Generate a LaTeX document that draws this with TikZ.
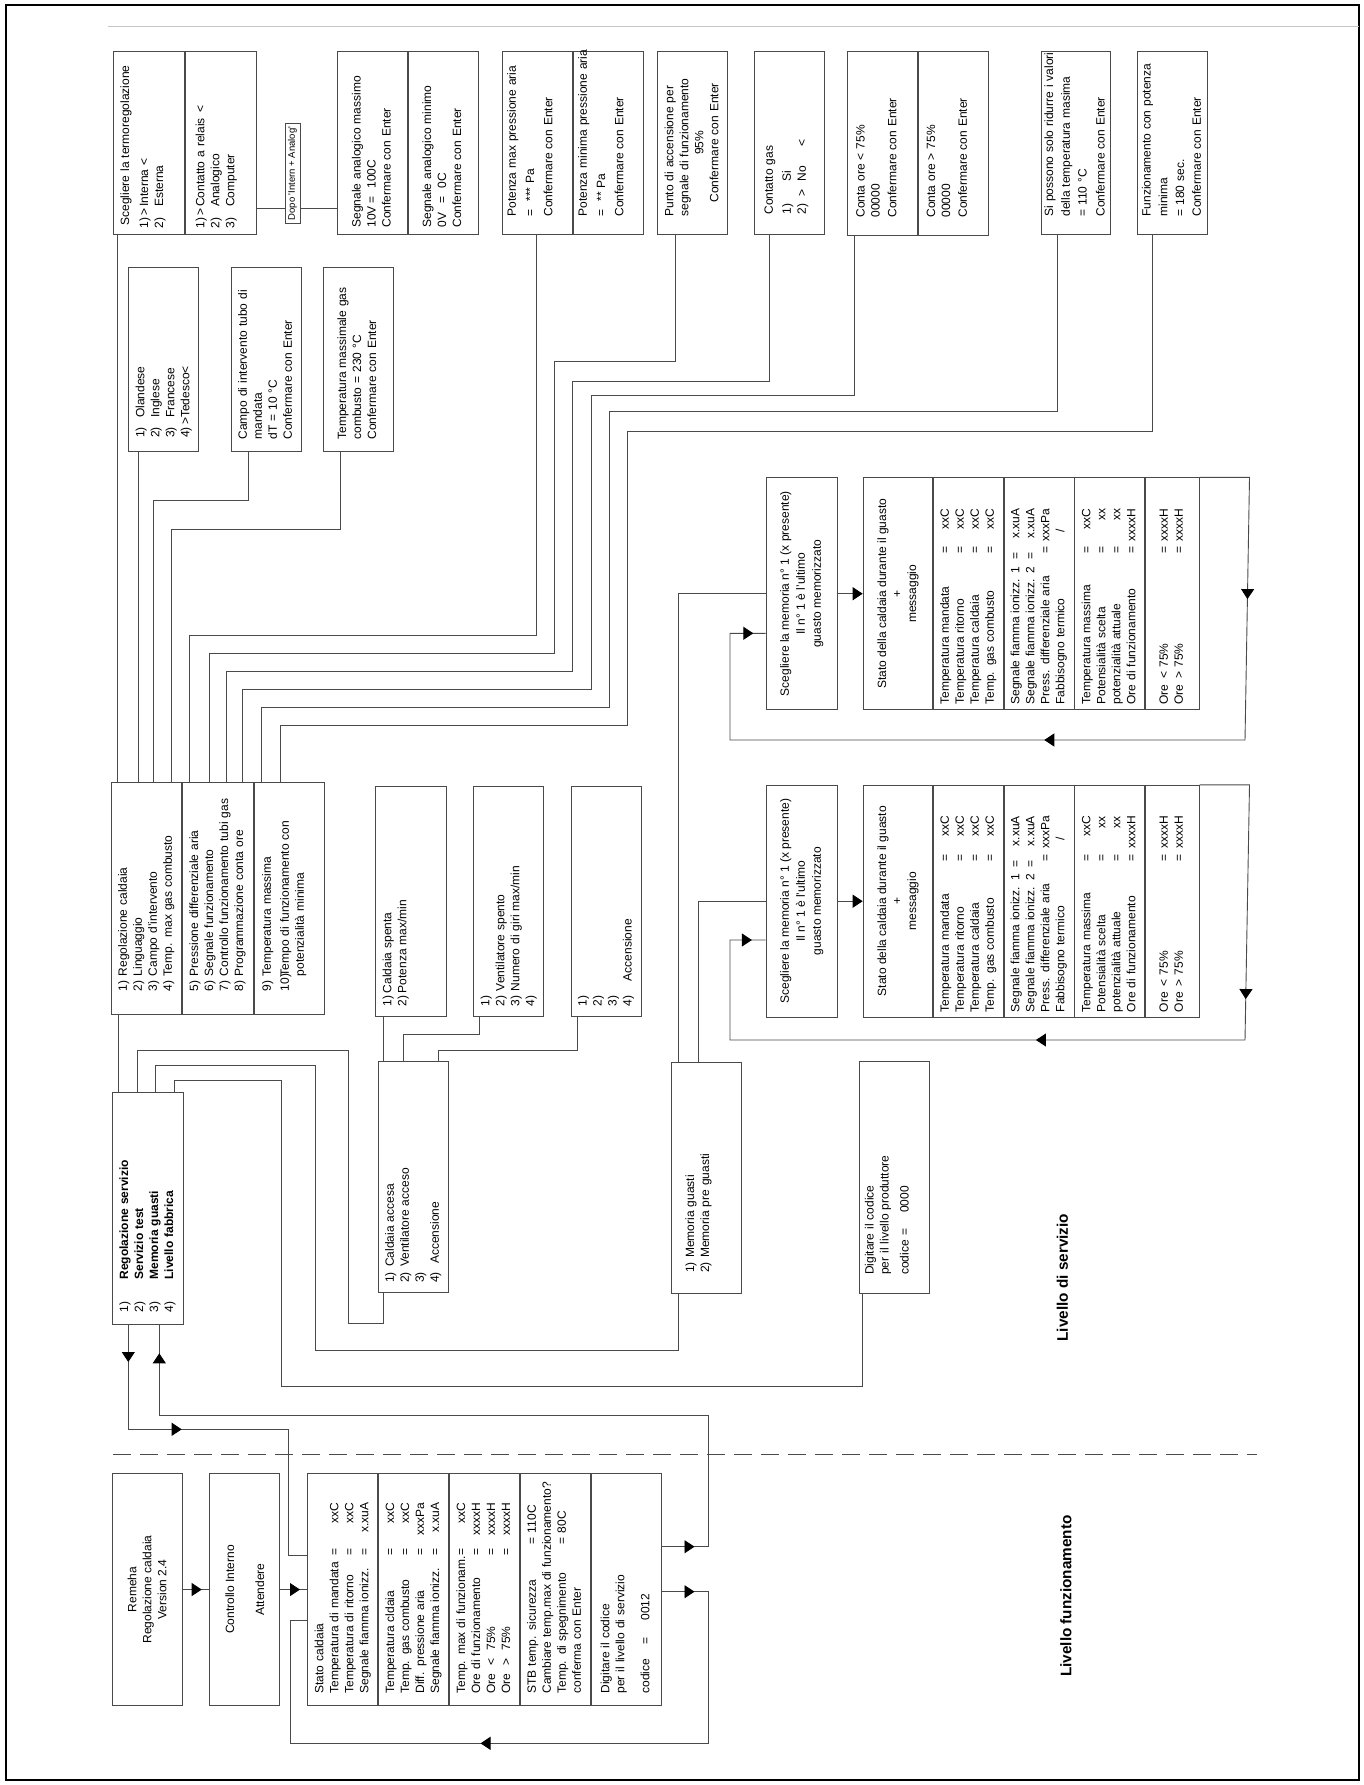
\documentclass[tikz,border=0pt]{standalone}
\usepackage{fontspec}
\setmainfont{Liberation Sans}
\usetikzlibrary{arrows.meta, positioning, decorations.markings}
\definecolor{linec}{HTML}{4A4A4A}
\newcommand\dfont{\fontsize{12}{15}\selectfont}
\newcommand\boxlines[1]{\begin{tabular}{@{}l@{}}#1\end{tabular}}
\newcommand\nr[3][15]{\makebox[#1pt][l]{#2}#3}
\newcommand\sv[2]{\makebox[138pt][l]{#1}=\makebox[46pt][r]{#2}}
\newcommand\gv[2]{\makebox[151pt][l]{#1}=\makebox[38pt][r]{#2}}
\tikzset{
  box/.style={draw=linec, line width=0.9pt, font=\dfont, inner ysep=0pt, anchor=north west},
  lbox/.style={box, align=left},
  cbox/.style={box, align=center},
  wp/.code 2 args={\pgfmathsetmacro\boxtw{#1-2*#2}%
    \pgfkeysalso{minimum width=#1pt, inner xsep=#2pt, text width/.expanded=\boxtw pt}},
  conn/.style={draw=linec, line width=0.9pt},
  midtip/.style={postaction={decorate, decoration={markings,
    mark=at position #1 with {\arrow{>}}}}},
}

\begin{document}
\begin{tikzpicture}[x=1pt, y=1pt, >={Triangle[length=10pt, width=13pt, color=black]}]
\begin{scope}[rotate=90, transform shape]
\useasboundingbox (0,0) rectangle (-1785,-1364);

% frame
\draw[line width=2pt] (-5,-6) rectangle (-1780,-1359);
\draw[gray!45, line width=1pt] (-27,-108) -- (-27,-1359);

% livello funzionamento
\node[cbox, minimum width=232pt, minimum height=70pt] (remeha) at (-1706,-111.7)
  {Remeha\\Regolazione caldaia\\Version 2.4};
\node[cbox, minimum width=232pt, minimum height=70pt] (ctrl) at (-1706,-209.3)
  {Controllo Interno\\[15pt]Attendere};
\node[lbox, wp={232}{12}, minimum height=70pt] (st1) at (-1706,-307.3)
  {\boxlines{Stato caldaia\\ \sv{Temperatura di mandata}{xxC}\\
   \sv{Temperatura di ritorno}{xxC}\\ \sv{Segnale fiamma ionizz.}{x.xuA}}};
\node[lbox, wp={232}{12}, minimum height=70pt, below=0pt of st1] (st2)
  {\boxlines{\sv{Temperatura cldaia}{xxC}\\ \sv{Temp. gas combusto}{xxC}\\
   \sv{Diff. pressione aria}{xxxPa}\\ \sv{Segnale fiamma ionizz.}{x.xuA}}};
\node[lbox, wp={232}{12}, minimum height=70pt, below=0pt of st2] (st3)
  {\boxlines{\sv{Temp. max di funzionam.}{xxC}\\ \sv{Ore di funzionamento}{xxxxH}\\
   \sv{Ore\hspace{8pt}<\hspace{8pt}75\%}{xxxxH}\\ \sv{Ore\hspace{8pt}>\hspace{8pt}75\%}{xxxxH}}};
\node[lbox, wp={232}{12}, minimum height=70pt, below=0pt of st3] (st4)
  {\boxlines{\makebox[149.5pt][l]{STB temp. sicurezza}= 110C\\
   Cambiare temp.max di funzionamento?\\
   \makebox[149.5pt][l]{Temp. di spegnimento}= 80C\\ conferma con Enter}};
\node[lbox, wp={232}{12}, minimum height=70pt, below=0pt of st4] (st5)
  {\boxlines{Digitare il codice\\ per il livello di servizio\\[10pt]
   \makebox[49.5pt][l]{codice}=\hspace{16.5pt}0012}};

\draw[conn, midtip=-7.6pt] (remeha.south) -- (remeha.south |- ctrl.north);
\draw[conn, midtip=-7.3pt] (ctrl.south) -- (ctrl.south |- st1.north);

\draw[conn, dash pattern=on 18pt off 9pt] (-1454,-113) -- (-1454,-1256.7);

% livello di servizio
\node[lbox, wp={231.7}{12}, minimum height=71pt] (regserv) at (-1325,-111.7)
  {\boxlines{\nr[33]{1)}{\textbf{Regolazione servizio}}\\ \nr[33]{2)}{\textbf{Servizio test}}\\
   \nr[33]{3)}{\textbf{Memoria guasti}}\\ \nr[33]{4)}{\textbf{Livello fabbrica}}}};

\node[lbox, wp={231.7}{23.3}, minimum height=70.3pt] (rc1) at (-1015,-110.7)
  {\boxlines{\nr{1)}{Regolazione caldaia}\\ \nr{2)}{Linguaggio}\\
   \nr{3)}{Campo d'intervento}\\ \nr{4)}{Temp. max gas combusto}}};
\node[lbox, wp={231.7}{23.3}, minimum height=70.7pt, below=0pt of rc1] (rc2)
  {\boxlines{\nr{5)}{Pressione differenziale aria}\\ \nr{6)}{Segnale funzionamento}\\
   \nr{7)}{Controllo funzionamento tubi gas}\\ \nr{8)}{Programmazione conta ore}}};
\node[lbox, wp={231.7}{23.3}, minimum height=70pt, below=0pt of rc2] (rc3)
  {\boxlines{\nr{9)}{Temperatura massima}\\[3pt] \nr{10)}{Tempo di funzionamento con}\\
   \nr{}{potenzialità minima}\\[-6pt] ~}};

\node[lbox, wp={231.6}{10}, minimum height=69.4pt] (caldacc) at (-1293.3,-378.3)
  {\boxlines{\nr[16]{1)}{Caldaia accesa}\\ \nr[16]{2)}{Ventilatore acceso}\\ 3)\\
   \nr[19]{4)}{Accensione}}};
\node[lbox, wp={230.6}{10.6}, minimum height=70.7pt] (caldsp) at (-1017.3,-375)
  {\boxlines{\nr[13]{1)}{Caldaia spenta}\\ \nr[13]{2)}{Potenza max/min}\\ ~\\ ~}};
\node[lbox, wp={230.6}{10.6}, minimum height=70pt] (vent) at (-1017.3,-473.3)
  {\boxlines{1)\\ \nr{2)}{Ventilatore spento}\\ \nr{3)}{Numero di giri max/min}\\ 4)}};
\node[lbox, wp={230.6}{10.6}, minimum height=70pt] (accens) at (-1017.3,-570.7)
  {\boxlines{1)\\ 2)\\ 3)\\ \nr[25]{4)}{Accensione}}};
\node[lbox, wp={231.6}{21}, minimum height=70pt] (memg) at (-1294.3,-670.7)
  {\boxlines{\nr{1)}{Memoria guasti}\\ \nr{2)}{Memoria pre guasti}\\ ~}};
\node[lbox, wp={232.6}{19}, minimum height=70.3pt] (digprod) at (-1294.3,-859)
  {\boxlines{Digitare il codice\\ per il livello produttore\\[5pt]
   \makebox[39.5pt][l]{codice}=\hspace{15.5pt}0000\\[-2pt] ~}};

% pagine di regolazione
\node[lbox, wp={183.3}{6}, minimum height=70.9pt] (termo1) at (-235,-113.3)
  {\boxlines{\hspace{3pt}Scegliere la termoregolazione\\[4pt]
   \makebox[13pt][l]{1)}\makebox[8.7pt][l]{>}Interna\hspace{4pt}<\\
   \makebox[21.7pt][l]{2)}Esterna\\[-3pt] ~}};
\node[lbox, wp={183.3}{6}, minimum height=70.8pt, below=0pt of termo1] (termo2)
  {\boxlines{\makebox[13pt][l]{1)}\makebox[8.7pt][l]{>}Contatto a relais\hspace{6pt}<\\
   \makebox[21.7pt][l]{2)}Analogico\\ \makebox[21.7pt][l]{3)}Computer\\[-6pt] ~}};
\node[cbox, minimum width=100pt, minimum height=15pt, inner sep=0pt,
      font=\fontsize{9.5}{11}\selectfont] (dopo) at (-224,-284.5)
  {Dopo \textquotesingle Intern + Analog\textquotesingle};
\node[lbox, wp={183.3}{7}, minimum height=69.7pt] (segn1) at (-235,-337.3)
  {\boxlines{Segnale analogico massimo\\ \makebox[24pt][l]{10V}=\hspace{8pt}100C\\
   Confermare con Enter}};
\node[lbox, wp={183.3}{7}, minimum height=69.7pt, below=0pt of segn1] (segn2)
  {\boxlines{Segnale analogico minimo\\ \makebox[24pt][l]{0V}=\hspace{8pt}0C\\
   Confermare con Enter}};
\node[lbox, wp={183.3}{18}, minimum height=70pt] (pot1) at (-235,-501.7)
  {\boxlines{Potenza max pressione aria\\[3.3pt] =\hspace{8pt}***\hspace{4pt}Pa\\[3.3pt]
   Confermare con Enter\\[-3pt] ~}};
\node[lbox, wp={183.3}{18}, minimum height=70pt, below=0pt of pot1] (pot2)
  {\boxlines{Potenza minima pressione aria\\[3.3pt] =\hspace{8pt}**\hspace{4pt}Pa\\[3.3pt]
   Confermare con Enter\\[-3pt] ~}};
\node[lbox, wp={183.3}{18}, minimum height=70pt] (punto) at (-235,-657.3)
  {\boxlines{Punto di accensione per\\ segnale di funzionamento\\
   \makebox[147.3pt][c]{95\%}\\ \makebox[147.3pt][c]{Confermare con Enter}}};
\node[lbox, wp={183.3}{20}, minimum height=70pt] (gas) at (-235,-754.3)
  {\boxlines{Contatto gas\\[3pt] \makebox[33pt][l]{1)}Si\\
   \makebox[18pt][l]{2)}\makebox[15pt][l]{>}No\hspace{20pt}<\\[-8pt] ~}};
\node[lbox, wp={184.3}{18}, minimum height=69.4pt] (conta1) at (-236,-847.3)
  {\boxlines{Conta ore < 75\%\\ 00000\\[1.7pt] Confermare con Enter\\[-5pt] ~}};
\node[lbox, wp={184.3}{18}, minimum height=70pt, below=0pt of conta1] (conta2)
  {\boxlines{Conta ore > 75\%\\ 00000\\[1.7pt] Confermare con Enter\\[-5pt] ~}};
\node[lbox, wp={183.3}{18}, minimum height=69.3pt] (tmax) at (-235,-1040.7)
  {\boxlines{Si possono solo ridurre i valori\\[1.7pt] della temperatura masima\\[1.7pt]
   = 110 °C\\[3pt] Confermare con Enter}};
\node[lbox, wp={183.3}{18}, minimum height=70pt] (fmin) at (-235,-1137.3)
  {\boxlines{Funzionamento con potenza\\[1.7pt] minima\\[1.7pt] = 180 sec.\\[1.7pt]
   Confermare con Enter}};

\node[lbox, wp={183.4}{13.4}, minimum height=70pt] (lingua) at (-451.7,-128.3)
  {\boxlines{\nr[20]{1)}{Olandese}\\ \nr[20]{2)}{Inglese}\\ \nr[20]{3)}{Francese}\\
   \nr[13]{4)}{>Tedesco<}}};
\node[lbox, wp={183.4}{11.7}, minimum height=70pt] (campo) at (-451.7,-231)
  {\boxlines{Campo di intervento tubo di\\ mandata\\ dT = 10 °C\\ Confermare con Enter}};
\node[lbox, wp={183.4}{11.7}, minimum height=70pt] (tgas) at (-451.7,-322.7)
  {\boxlines{Temperatura massimale gas\\ combusto = 230 °C\\ Confermare con Enter}};

% memoria guasti
\foreach \g/\gx in {1/-710, 2/-1017.5} {
  \node[cbox, minimum width=231.7pt, minimum height=71pt] (memsel\g) at (\gx,-765.7)
    {Scegliere la memoria n° 1 (x presente)\\[1pt]Il n° 1 è l'ultimo\\[1pt]guasto memorizzato};
  \node[cbox, minimum width=231.7pt, minimum height=69.6pt] (hd\g) at (\gx,-862.7)
    {Stato della caldaia durante il guasto\\+\\messaggio};
  \node[lbox, wp={231.7}{5}, minimum height=69.4pt, below=0pt of hd\g] (a\g)
    {\boxlines{\gv{Temperatura mandata}{xxC}\\ \gv{Temperatura ritorno}{xxC}\\
     \gv{Temperatura caldaia}{xxC}\\ \gv{Temp. gas combusto}{xxC}}};
  \node[lbox, wp={231.7}{5}, minimum height=70pt, below=0pt of a\g] (b\g)
    {\boxlines{\makebox[145pt][l]{Segnale fiamma ionizz. 1}=\makebox[44pt][r]{x.xuA}\\
     \makebox[145pt][l]{Segnale fiamma ionizz. 2}=\makebox[44pt][r]{x.xuA}\\
     \gv{Press. differenziale aria}{xxxPa}\\ \makebox[172pt][l]{Fabbisogno termico}/}};
  \node[lbox, wp={231.7}{5}, minimum height=70pt, below=0pt of b\g] (c\g)
    {\boxlines{\gv{Temperatura massima}{xxC}\\ \gv{Potensialità scelta}{xx}\\
     \gv{potenzialità attuale}{xx}\\ \gv{Ore di funzionamento}{xxxxH}}};
  \node[lbox, wp={231.7}{5}, minimum height=53.3pt, below=0pt of c\g] (d\g)
    {\boxlines{\gv{Ore\hspace{6pt}<\hspace{4pt}75\%}{xxxxH}\\
     \gv{Ore\hspace{6pt}>\hspace{4pt}75\%}{xxxxH}}};
  \draw[conn, ->] (memsel\g.south) -- (hd\g.north);
}

\node[anchor=west, inner sep=0pt, font=\fontsize{15.3}{18}\selectfont\bfseries] (lvserv)
  at (-1341.7,-1062.5) {Livello di servizio};
\node[anchor=west, inner sep=0pt, font=\fontsize{15.3}{18}\selectfont\bfseries] (lvfunz)
  at (-1677,-1066) {Livello funzionamento};

% uscita dal livello di servizio
\draw[conn, midtip=37pt, midtip=157.7pt] (regserv.west |- 0,-128.3) -- (-1429.3,-128.3)
  -- (-1429.3,-288.3) -- (-1555,-288.3) -- (st1.north -| -1555,0);
% codice 0012
\draw[conn, midtip=32.7pt, midtip=-28.3pt] (st5.south -| -1546.7,0) -- (-1546.7,-708.3)
  -- (-1415,-708.3) -- (-1415,-159.3) -- (regserv.west |- 0,-159.3);
% scorrimento stato caldaia
\draw[conn, midtip=32.7pt, midtip=425.9pt] (st5.south -| -1591.7,0) -- (-1591.7,-708.3)
  -- (-1743.3,-708.3) -- (-1743.3,-290) -- (-1620,-290) -- (st1.north -| -1620,0);

% menu servizio
\draw[conn] (regserv.east |- 0,-118.3) -- (rc1.west |- 0,-118.3);
\draw[conn] (regserv.east |- 0,-137.3) -- (-1050,-137.3) -- (-1050,-348.3)
  -- (-1323.3,-348.3) -- (-1323.3,-383.3) -- (caldacc.west |- 0,-383.3);
\draw[conn] (regserv.east |- 0,-155) -- (-1065,-155) -- (-1065,-315)
  -- (-1350,-315) -- (-1350,-678) -- (memg.west |- 0,-678);
\draw[conn] (regserv.east |- 0,-174) -- (-1080,-174) -- (-1080,-281.7)
  -- (-1386.7,-281.7) -- (-1386.7,-862.7) -- (digprod.west |- 0,-862.7);

% servizio test
\draw[conn] (caldacc.east |- 0,-383.3) -- (caldsp.west |- 0,-383.3);
\draw[conn] (caldacc.east |- 0,-403.3) -- (-1034,-403.3) -- (-1034,-479) -- (vent.west |- 0,-479);
\draw[conn] (caldacc.east |- 0,-438.3) -- (-1050,-438.3) -- (-1050,-577.7) -- (accens.west |- 0,-577.7);

% memoria guasti
\draw[conn] (memg.east |- 0,-678) -| (memsel1.north);
\draw[conn] (memg.east |- 0,-698.3) -| (memsel2.north);
\draw[conn, midtip=171.7pt, midtip=513.4pt, midtip=-12.4pt] (d1.south east) -- ++(0,-50)
  -- (-740,-1245) -- (-740,-730) -- (-633.3,-730) -- (memsel1.north -| -633.3,0);
\draw[conn, midtip=264.2pt, midtip=514.2pt, midtip=-13.8pt] (d2.south east) -- ++(0,-50)
  -- (-1040,-1245) -- (-1040,-730) -- (-940,-730) -- (memsel2.north -| -940,0);

% regolazione caldaia
\draw[conn] (rc1.east |- 0,-117.3) -- (termo1.west |- 0,-117.3);
\draw[conn] (rc1.east |- 0,-138.5) -- (lingua.west |- 0,-138.5);
\draw[conn] (rc1.east |- 0,-153.3) -- (-500,-153.3) -- (-500,-248.3) -- (campo.west |- 0,-248.3);
\draw[conn] (rc1.east |- 0,-171.7) -- (-529.3,-171.7) -- (-529.3,-340) -- (tgas.west |- 0,-340);
\draw[conn] (rc2.east |- 0,-189.3) -- (-635,-189.3) -- (-635,-536) -- (pot1.west |- 0,-536);
\draw[conn] (rc2.east |- 0,-209.3) -- (-653.3,-209.3) -- (-653.3,-554.3)
  -- (-361.7,-554.3) -- (-361.7,-675) -- (punto.west |- 0,-675);
\draw[conn] (rc2.east |- 0,-226) -- (-671,-226) -- (-671,-572.7)
  -- (-381.7,-572.7) -- (-381.7,-769.3) -- (gas.west |- 0,-769.3);
\draw[conn] (rc2.east |- 0,-242.7) -- (-689.3,-242.7) -- (-689.3,-591)
  -- (-395.7,-591) -- (-395.7,-854.3) -- (conta1.west |- 0,-854.3);
\draw[conn] (rc3.east |- 0,-261.7) -- (-707.7,-261.7) -- (-707.7,-609.3)
  -- (-411.7,-609.3) -- (-411.7,-1057.7) -- (tmax.west |- 0,-1057.7);
\draw[conn] (rc3.east |- 0,-280.7) -- (-725.7,-280.7) -- (-725.7,-627.7)
  -- (-431.7,-627.7) -- (-431.7,-1152.7) -- (fmin.west |- 0,-1152.7);

% termoregolazione
\draw[conn] (termo2.south -| -208.3,0) -- (dopo.north -| -208.3,0);
\draw[conn] (dopo.south -| -208.3,0) -- (segn1.north -| -208.3,0);

\end{scope}
\end{tikzpicture}
\end{document}
